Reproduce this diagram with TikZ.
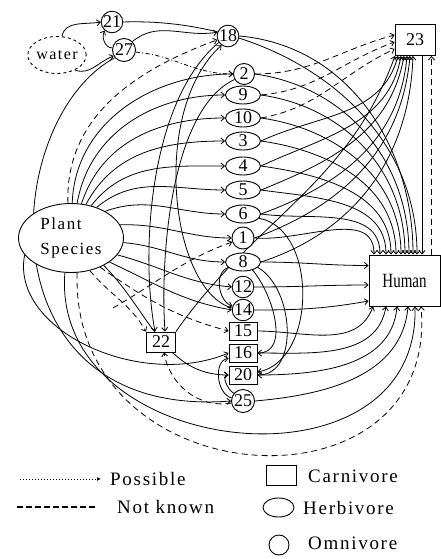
\documentclass[tikz,border=0pt]{standalone}
\usepackage{fontspec}
\setmainfont{Liberation Serif}
\newfontfamily\lblfont[LetterSpace=9]{Liberation Serif}
\usetikzlibrary{shapes.geometric,arrows.meta,backgrounds,calc}
\begin{document}
\begin{tikzpicture}[x=1pt,y=-1pt,
  numf/.style={font=\fontsize{18}{18}\selectfont},
  circ/.style={circle,draw,fill=white,inner sep=0pt,minimum size=21pt,line width=0.9pt,numf},
  ell/.style={ellipse,draw,fill=white,inner sep=0pt,minimum width=35pt,minimum height=18pt,line width=0.9pt,numf},
  sq/.style={rectangle,draw,fill=white,inner sep=0pt,minimum width=28pt,minimum height=18pt,line width=0.9pt,numf},
  edg/.style={line width=0.8pt,-{Straight Barb[length=3.5pt,width=6pt]}},
  notknown/.style={edg,dash pattern=on 6pt off 4pt},
  possible/.style={edg,dash pattern=on 4pt off 2.5pt on 1pt off 2.5pt},
]
\useasboundingbox (0,0) rectangle (441,559);
% ---------- nodes ----------
\node[ellipse,draw,dashed,fill=white,line width=0.9pt,minimum width=49pt,minimum height=37pt,inner sep=0pt,font=\lblfont\fontsize{16}{16}\selectfont] (water) at (57,55) {water};
\node[circ] (n21) at (112,22) {21};
\node[circ,minimum size=23pt] (n27) at (124,50) {27};
\node[circ,minimum size=20pt] (n18) at (228,36) {18};
\node[sq,minimum width=40pt,minimum height=31pt] (n23) at (415,40) {23};
\node[circ] (n2) at (244,74) {2};
\node[ell] (n9) at (243,95) {9};
\node[ell] (n10) at (243,118) {10};
\node[ell] (n3) at (243,141) {3};
\node[ell] (n4) at (243,166) {4};
\node[ell] (n5) at (243,190) {5};
\node[ell] (n6) at (243,214) {6};
\node[circ,minimum size=22pt] (n1) at (243,238) {1};
\node[ell] (n8) at (243,262) {8};
\node[circ] (n12) at (243,287) {12};
\node[circ] (n14) at (243,310) {14};
\node[sq] (n15) at (243,331) {15};
\node[sq] (n16) at (243,353) {16};
\node[sq] (n20) at (243,375) {20};
\node[circ,minimum size=23pt] (n25) at (243,401) {25};
\node[sq,minimum width=29pt,minimum height=20pt] (n22) at (161,342) {22};
\node[ellipse,draw,fill=white,line width=0.9pt,minimum width=105pt,minimum height=69pt,inner sep=0pt,align=left,font=\lblfont\fontsize{17}{25}\selectfont] (plant) at (71,238) {Plant\\Species};
\node[rectangle,draw,fill=white,line width=0.9pt,minimum width=71pt,minimum height=51pt,inner sep=0pt] (human) at (404.5,280.5) {\scalebox{1}[1.35]{\fontsize{15}{15}\selectfont Human}};
% ---------- edges ----------
\begin{pgfonlayer}{background}
% water, 21, 27
\draw[edg] (water.75) to[out=80,in=190] (n21.west);
\draw[edg] (water.-40) to[out=-20,in=200] (n27.210);
\draw[edg] (n27.170) to[out=180,in=-120] (n21.-130);
\draw[edg] (n27.45) to[out=40,in=190] (n18.160);
\draw[possible] (n27.-10) to[out=-5,in=180] (n2.west);
% to Human top
\draw[edg] (n21.east) to[out=2,in=90] ([xshift=12.5pt]human.north);
\draw[edg] (n18.east) to[out=-5,in=90] ([xshift=8.5pt]human.north);
\draw[edg] (n2.east) to[out=-8,in=90] ([xshift=4.5pt]human.north);
\draw[edg] (n9.east) to[out=-8,in=90] ([xshift=0.5pt]human.north);
\draw[edg] (n10.east) to[out=-8,in=90] ([xshift=-3.5pt]human.north);
\draw[edg] (n3.east) to[out=-8,in=90] ([xshift=-8.5pt]human.north);
\draw[edg] (n4.east) to[out=-8,in=90] ([xshift=-13.5pt]human.north);
\draw[edg] (n5.east) to[out=-8,in=90] ([xshift=-18.5pt]human.north);
\draw[edg] (n6.east) to[out=-8,in=90] ([xshift=-24.5pt]human.north);
\draw[edg] (n1.east) to[out=-5,in=90] ([xshift=-30.5pt]human.north);
% to Human left
\draw[edg] (n8.east) to[out=0,in=180] ([yshift=15pt]human.west);
\draw[edg] (n12.east) to[out=0,in=180] ([yshift=-4.5pt]human.west);
\draw[edg] (n14.east) to[out=0,in=190] ([yshift=-20.5pt]human.west);
% to Human bottom
\draw[edg] (n15.east) to[out=0,in=-110] ([xshift=-31.5pt]human.south);
\draw[edg] (n16.east) to[out=0,in=-100] ([xshift=-18.5pt]human.south);
\draw[edg] (n20.east) to[out=0,in=-95] ([xshift=-7.5pt]human.south);
\draw[edg] (n25.east) to[out=5,in=-95] ([xshift=3.5pt]human.south);
\draw[edg] (plant.-100) .. controls (50,460) and (420,500) .. ([xshift=10.5pt]human.south);
\draw[notknown] (plant.-80) .. controls (70,500) and (440,520) .. ([xshift=16.5pt]human.south);
% 23 and Human
\draw[edg] ([xshift=7pt]n23.south) -- ([xshift=17.5pt]human.north);
\draw[notknown] ([xshift=27pt]human.north) -- ([xshift=16.5pt]n23.south);
% to 23
\draw[notknown] (n2.east) to[out=0,in=195] ([yshift=5pt]n23.west);
\draw[notknown] (n9.east) to[out=5,in=200] ([yshift=-2pt]n23.west);
\draw[notknown] (n10.east) to[out=10,in=205] ([yshift=-9pt]n23.west);
\draw[edg] (n3.east) to[out=25,in=-105] ([xshift=-17pt]n23.south);
\draw[edg] (n4.east) to[out=25,in=-100] ([xshift=-14pt]n23.south);
\draw[edg] (n5.east) to[out=22,in=-100] ([xshift=-11pt]n23.south);
\draw[edg] (n6.east) to[out=20,in=-95] ([xshift=-8pt]n23.south);
\draw[edg] (n1.east) to[out=20,in=-95] ([xshift=-5pt]n23.south);
\draw[edg] (n8.east) to[out=18,in=-92] ([xshift=-2pt]n23.south);
\draw[edg] (n22.north east) to[out=55,in=-110] ([xshift=-20pt]n23.south);
% Plant to herbivores / omnivores
\draw[edg] (plant.88) to[out=88,in=180] (n2.west);
\draw[edg] (plant.80) to[out=80,in=180] (n9.west);
\draw[edg] (plant.73) to[out=72,in=180] (n10.west);
\draw[edg] (plant.66) to[out=62,in=180] (n3.west);
\draw[edg] (plant.58) to[out=52,in=180] (n4.west);
\draw[edg] (plant.50) to[out=40,in=180] (n5.west);
\draw[edg] (plant.38) to[out=20,in=180] (n6.west);
\draw[edg] (plant.15) to[out=2,in=180] (n1.west);
\draw[edg] (plant.-5) to[out=-5,in=180] (n8.west);
\draw[edg] (plant.-20) to[out=-15,in=175] (n12.west);
\draw[edg] (plant.-32) to[out=-25,in=170] (n14.west);
\draw[notknown] (plant.-45) to[out=-35,in=165] (n15.west);
\draw[edg] (plant.-40) to[out=-45,in=180] (n20.west);
\draw[notknown] (plant.-60) to[out=-50,in=120] (n22.north west);
\draw[notknown] (plant.95) to[out=92,in=200] (n18.200);
\draw[edg] (plant.200) .. controls (10,330) and (140,390) .. (n16.west);
\draw[edg] (n27.220) .. controls (0,120) and (-20,420) .. (n25.west);
% others
\draw[edg] (n18.215) .. controls (150,100) and (140,250) .. ([xshift=-6pt]n22.north);
\draw[edg] (n2.210) .. controls (170,110) and (160,260) .. ([xshift=4pt]n22.north);
\draw[edg] (n14.170) .. controls (170,290) and (150,110) .. (n18.235);
\draw[notknown] (n25.190) to[out=190,in=-80] ([xshift=3pt]n22.south);
\coordinate (dstart) at (113,308);
\draw[notknown] (dstart) to[out=30,in=200] (n1.200);
\draw[edg] (n8.-40) to[out=-50,in=0] (n16.east);
\draw[edg] (n8.-20) to[out=-30,in=0] (n20.east);
\draw[edg] (n6.-15) to[out=-10,in=10] ([yshift=3pt]n20.east);
\draw[edg] (n8.200) to[out=200,in=160] (n14.160);
\draw[edg] (n25.140) to[out=150,in=180] (n20.west);
\draw[edg] (n25.165) to[out=165,in=190] (n16.200);
\end{pgfonlayer}
% ---------- legend ----------
\coordinate (lp1) at (20,479);
\coordinate (lp2) at (101,479);
\draw[line width=1pt,dotted,-{Latex[length=4pt,width=4pt]}] (lp1) -- (lp2);
\node[anchor=west,font=\lblfont\fontsize{19}{19}\selectfont,inner sep=0pt] (tp) at (110,479) {Possible};
\coordinate (ln1) at (17,507);
\coordinate (ln2) at (97,507);
\draw[line width=1.1pt,dash pattern=on 6pt off 3pt] (ln1) -- (ln2);
\node[anchor=west,font=\lblfont\fontsize{19}{19}\selectfont,inner sep=0pt] (tn) at (117,507) {Not known};
\node[rectangle,draw,line width=0.9pt,minimum width=30pt,minimum height=20pt,inner sep=0pt] (lc) at (281,475) {};
\node[anchor=west,font=\lblfont\fontsize{19}{19}\selectfont,inner sep=0pt] (tc) at (308,476) {Carnivore};
\node[ellipse,draw,line width=0.9pt,minimum width=31pt,minimum height=19pt,inner sep=0pt] (lh) at (278.5,507.5) {};
\node[anchor=west,font=\lblfont\fontsize{19}{19}\selectfont,inner sep=0pt] (th) at (303,508) {Herbivore};
\node[circle,draw,line width=0.9pt,minimum size=20pt,inner sep=0pt] (lo) at (279,545) {};
\node[anchor=west,font=\lblfont\fontsize{19}{19}\selectfont,inner sep=0pt] (to) at (308,543) {Omnivore};
\end{tikzpicture}
\end{document}
